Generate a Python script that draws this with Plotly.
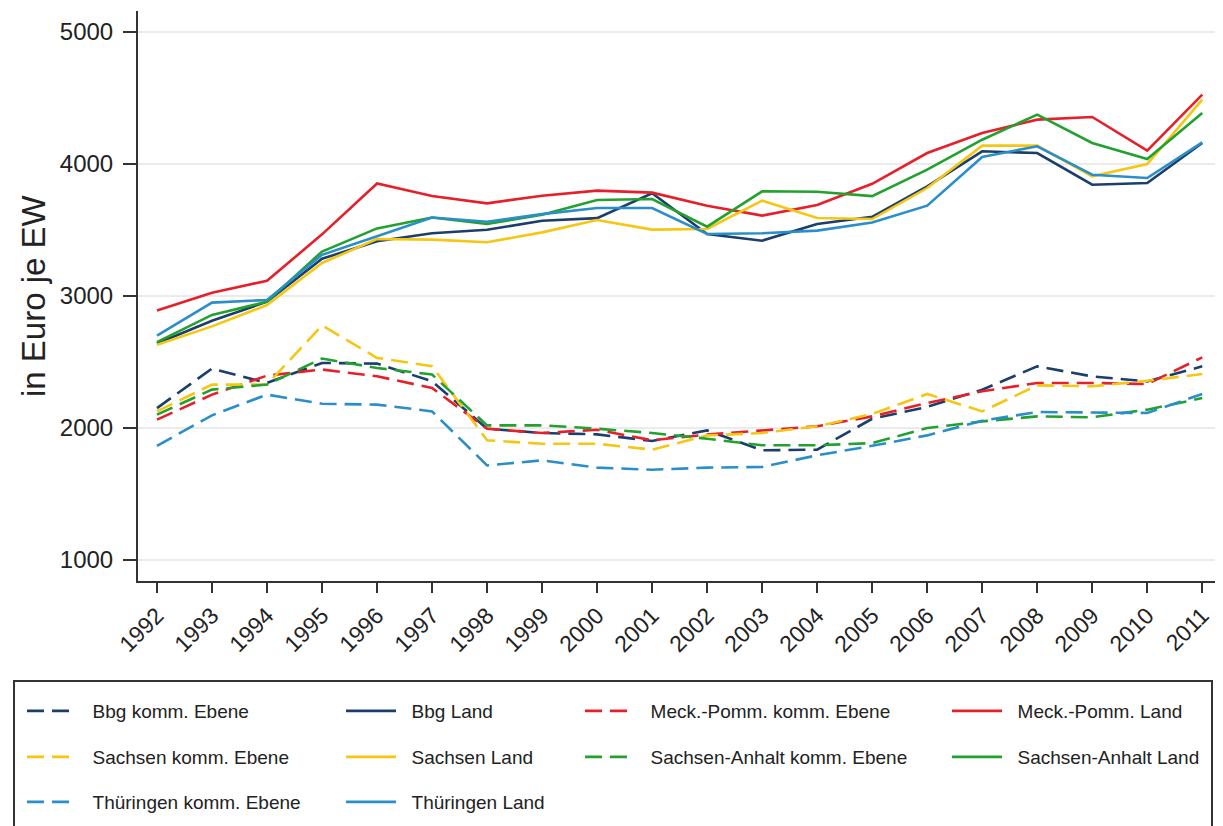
import plotly.graph_objects as go

years = list(range(1992, 2012))

bbg_komm = [2151, 2450, 2341, 2493, 2488, 2354, 1995, 1962, 1952, 1902, 1982, 1831, 1836, 2070, 2160, 2290, 2467, 2391, 2353, 2467]
bbg_land = [2640, 2812, 2957, 3282, 3415, 3475, 3502, 3570, 3590, 3778, 3470, 3419, 3545, 3600, 3831, 4096, 4083, 3843, 3856, 4159]
mp_komm = [2063, 2253, 2397, 2443, 2392, 2303, 1995, 1962, 1987, 1907, 1950, 1982, 2013, 2088, 2189, 2278, 2341, 2341, 2333, 2535]
mp_land = [2890, 3025, 3115, 3467, 3852, 3757, 3702, 3760, 3798, 3783, 3684, 3609, 3689, 3850, 4083, 4235, 4336, 4356, 4101, 4525]
sn_komm = [2126, 2329, 2329, 2777, 2531, 2468, 1907, 1881, 1881, 1836, 1944, 1962, 2013, 2106, 2258, 2126, 2323, 2316, 2358, 2409]
sn_land = [2630, 2770, 2932, 3250, 3432, 3427, 3407, 3482, 3576, 3503, 3508, 3722, 3591, 3583, 3818, 4139, 4139, 3907, 4000, 4487]
st_komm = [2101, 2291, 2329, 2526, 2455, 2405, 2020, 2020, 1995, 1962, 1919, 1869, 1869, 1886, 2000, 2050, 2088, 2081, 2139, 2227]
st_land = [2650, 2857, 2957, 3337, 3512, 3595, 3545, 3615, 3727, 3735, 3525, 3793, 3790, 3757, 3957, 4184, 4374, 4159, 4038, 4386]
th_komm = [1865, 2096, 2253, 2184, 2177, 2126, 1717, 1755, 1700, 1684, 1700, 1705, 1793, 1865, 1944, 2055, 2121, 2119, 2114, 2258]
th_land = [2700, 2950, 2970, 3312, 3452, 3595, 3562, 3620, 3667, 3667, 3470, 3475, 3495, 3556, 3684, 4053, 4134, 3919, 3894, 4164]

series = [
    ("Bbg komm. Ebene", bbg_komm, "#1b3e6b", True),
    ("Bbg Land", bbg_land, "#1b3e6b", False),
    ("Meck.-Pomm. komm. Ebene", mp_komm, "#e6202a", True),
    ("Meck.-Pomm. Land", mp_land, "#e6202a", False),
    ("Sachsen komm. Ebene", sn_komm, "#f5c614", True),
    ("Sachsen Land", sn_land, "#f5c614", False),
    ("Sachsen-Anhalt komm. Ebene", st_komm, "#22a12f", True),
    ("Sachsen-Anhalt Land", st_land, "#22a12f", False),
    ("Thüringen komm. Ebene", th_komm, "#2a8fc8", True),
    ("Thüringen Land", th_land, "#2a8fc8", False),
]

# figure is drawn inside the page body (8px offset), so size it accordingly
W, H = 1215, 818
L, R, T, B = 130, 7, 3, 245
PW = W - L - R   # plot width
PH = H - T - B   # plot height
col_x = [28, 347, 586, 953]
row_y = [703, 749, 794]

fig = go.Figure()
layout_legends = {}
for i, (name, vals, color, dashed) in enumerate(series):
    lid = "legend" if i == 0 else f"legend{i+1}"
    fig.add_trace(go.Scatter(
        x=years, y=vals, mode="lines", name="\u00a0\u00a0" + name,
        line=dict(color=color, width=2.6, dash="17px,8px" if dashed else "solid"),
        legend=lid,
    ))
    r, c = divmod(i, 4)
    layout_legends[lid] = dict(
        xref="container", yref="container",
        x=(col_x[c] - 14) / W, y=1 - row_y[r] / H,
        xanchor="left", yanchor="middle",
        bgcolor="rgba(0,0,0,0)", borderwidth=0,
        itemwidth=50,
        font=dict(family="Liberation Sans, Arial, sans-serif", size=19, color="#222"),
    )

fig.update_layout(
    width=W, height=H,
    margin=dict(l=L, r=R, t=T, b=B, autoexpand=False),
    plot_bgcolor="white", paper_bgcolor="white",
    font=dict(family="Liberation Sans, Arial, sans-serif", color="#222"),
    showlegend=True,
    **layout_legends,
)

fig.update_xaxes(
    range=[1991.655, 2011.25], tickmode="array", tickvals=years,
    ticktext=[str(y) for y in years], tickangle=-45,
    tickfont=dict(size=23, color="#222"),
    showgrid=False, zeroline=False,
    showline=True, linecolor="#333", linewidth=2,
    ticks="outside", ticklen=10, tickwidth=2, tickcolor="#333",
)
fig.update_yaxes(
    range=[841, 5159], tickvals=[1000, 2000, 3000, 4000, 5000],
    tickfont=dict(size=24, color="#222"),
    showgrid=True, gridcolor="#ebebeb", gridwidth=1.5, zeroline=False,
    showline=True, linecolor="#333", linewidth=2,
    ticks="outside", ticklen=13, tickwidth=2, tickcolor="#333",
    ticklabelstandoff=5,
)

# y-axis title
fig.add_annotation(text="in Euro je EW", xref="paper", yref="paper",
                   x=(25 - L) / PW, y=0.5, xanchor="center", yanchor="middle",
                   textangle=-90, showarrow=False,
                   font=dict(family="Liberation Sans, Arial, sans-serif", size=33, color="#222"))

# legend frame
fig.add_shape(type="rect", xref="paper", yref="paper",
              x0=(6 - L) / PW, x1=(1204 - L) / PW,
              y0=((H - B) - 840) / PH, y1=((H - B) - 673) / PH,
              line=dict(color="#333", width=2), fillcolor="rgba(0,0,0,0)", layer="below")

fig.write_html("out.html")
